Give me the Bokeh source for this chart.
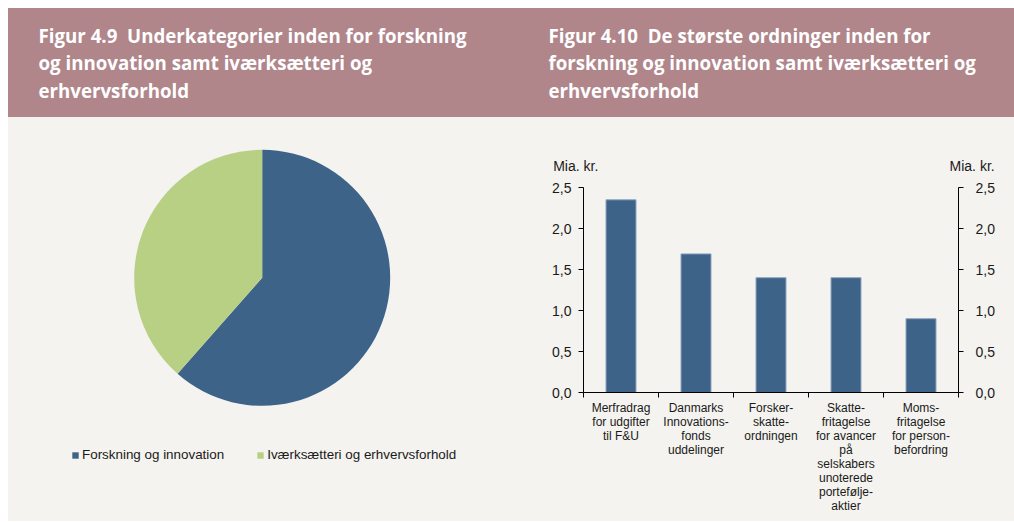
from bokeh.plotting import figure
from bokeh.layouts import column, row
from bokeh.models import (Range1d, Label, LinearAxis, FixedTicker, CustomJSTickFormatter,
                          Legend, LegendItem)
from bokeh.embed import file_html
from bokeh.resources import INLINE
import math

# ---------------- data ----------------
pie_labels = ["Forskning og innovation", "Iværksætteri og erhvervsforhold"]
pie_values = [61.5, 38.5]
pie_colors = ["#3e6389", "#b8d083"]

bar_categories = [
    "Merfradrag\nfor udgifter\ntil F&U",
    "Danmarks\nInnovations-\nfonds\nuddelinger",
    "Forsker-\nskatte-\nordningen",
    "Skatte-\nfritagelse\nfor avancer\npå\nselskabers\nunoterede\nportefølje-\naktier",
    "Moms-\nfritagelse\nfor person-\nbefordring",
]
bar_values = [2.35, 1.69, 1.40, 1.40, 0.90]
y_ticks = [0.0, 0.5, 1.0, 1.5, 2.0, 2.5]

title_left = "Figur 4.9\u00a0 Underkategorier inden for forskning\nog innovation samt iværksætteri og\nerhvervsforhold"
title_right = "Figur 4.10\u00a0 De største ordninger inden for\nforskning og innovation samt iværksætteri og\nerhvervsforhold"
unit_label = "Mia. kr."

# ---------------- style ----------------
BAND = "#b0868b"
BODY = "#f4f3ef"
BAR = "#3e6389"
TXT = "#1a1a1a"
SANS = "Liberation Sans"
HEAD_FONT = "Open Sans"

W_L, W_R = 512, 494
H_HEAD, H_BODY = 109, 404


def no_align(p):
    try:
        p.frame_align = False
    except Exception:
        pass


def blank(w, h, bg):
    p = figure(width=w, height=h, x_range=Range1d(0, w), y_range=Range1d(0, h),
               output_backend="svg", toolbar_location=None,
               x_axis_location=None, y_axis_location=None, min_border=0)
    p.background_fill_color = bg
    p.border_fill_color = bg
    p.outline_line_color = None
    p.grid.visible = False
    no_align(p)
    return p


def header(w, text, x0):
    p = blank(w, H_HEAD, BAND)
    p.add_layout(Label(x=x0, y=H_HEAD - 14, text=text, text_color="white",
                       text_font=HEAD_FONT, text_font_style="bold",
                       text_font_size="18.7px", text_baseline="top",
                       text_line_height=1.11))
    return p


h1 = header(W_L, title_left, 30)
h2 = header(W_R, title_right, 28)

# ---------------- pie ----------------
p1 = blank(W_L, H_BODY, BODY)
total = sum(pie_values)
starts, ends = [], []
acc = 0.0
for v in pie_values:
    starts.append(math.pi / 2 - 2 * math.pi * acc / total)
    acc += v
    ends.append(math.pi / 2 - 2 * math.pi * acc / total)
cx, cy, r = 253.7, 243.7, 128
items = []
for i in range(len(pie_values)):
    rr = p1.wedge(x=cx, y=cy, radius=r, start_angle=starts[i], end_angle=ends[i],
                  direction="clock", fill_color=pie_colors[i], line_color=None)
    items.append(LegendItem(label=pie_labels[i], renderers=[rr]))
leg = Legend(items=items, orientation="horizontal", location=(63, 59),
             glyph_width=8, glyph_height=8, label_standoff=3, spacing=32,
             padding=0, margin=0, background_fill_alpha=0, border_line_alpha=0,
             label_text_font=SANS, label_text_font_size="13.4px",
             label_text_color=TXT)
p1.add_layout(leg, "center")

# ---------------- bars ----------------
n = len(bar_values)
p2 = figure(width=W_R, height=H_BODY, x_range=Range1d(0, n), y_range=Range1d(0, 2.5),
            output_backend="svg", toolbar_location=None,
            min_border_left=63, min_border_right=56, min_border_top=70,
            min_border_bottom=129, x_axis_location=None, y_axis_location=None)
p2.background_fill_color = BODY
p2.border_fill_color = BODY
p2.outline_line_color = None
p2.grid.visible = False
no_align(p2)

xs = [i + 0.5 for i in range(n)]
p2.vbar(x=xs, top=bar_values, width=0.4, bottom=0, fill_color=BAR,
        line_color="#8fa5bd", line_width=1)

fmt_y = CustomJSTickFormatter(code="return tick.toFixed(1).replace('.', ',');")


def yaxis(standoff):
    ax = LinearAxis(ticker=FixedTicker(ticks=y_ticks, minor_ticks=[]), formatter=fmt_y)
    ax.major_tick_in = 0
    ax.major_tick_out = 5
    ax.minor_tick_line_color = None
    ax.axis_line_color = "#000000"
    ax.major_tick_line_color = "#000000"
    ax.major_label_text_font = SANS
    ax.major_label_text_font_size = "14px"
    ax.major_label_text_color = TXT
    ax.major_label_standoff = standoff
    return ax


p2.add_layout(yaxis(7), "left")
p2.add_layout(yaxis(12), "right")

xax = LinearAxis(ticker=FixedTicker(ticks=xs, minor_ticks=list(range(n + 1))),
                 formatter=CustomJSTickFormatter(args=dict(labels=bar_categories),
                                                 code="return labels[Math.floor(tick)];"))
xax.major_tick_line_color = None
xax.major_tick_in = 0
xax.major_tick_out = 0
xax.minor_tick_in = 0
xax.minor_tick_out = 5
xax.minor_tick_line_color = "#000000"
xax.axis_line_color = "#000000"
xax.major_label_text_font = SANS
xax.major_label_text_font_size = "12px"
xax.major_label_text_color = TXT
xax.major_label_text_line_height = 1.0
xax.major_label_standoff = 3
p2.add_layout(xax, "below")

# unit labels ("Mia. kr.") above both value axes
unit_axis = LinearAxis(
    ticker=FixedTicker(ticks=[0, n], minor_ticks=[]),
    formatter=CustomJSTickFormatter(
        args=dict(unit=unit_label, mid=n / 2),
        code="const nb = '\\u00a0'; return tick < mid ? unit + nb.repeat(4) : nb.repeat(7) + unit;"))
unit_axis.axis_line_color = None
unit_axis.major_tick_line_color = None
unit_axis.minor_tick_line_color = None
unit_axis.major_tick_in = 0
unit_axis.major_tick_out = 0
unit_axis.major_label_text_font = SANS
unit_axis.major_label_text_font_size = "14px"
unit_axis.major_label_text_color = TXT
unit_axis.major_label_standoff = 14
p2.add_layout(unit_axis, "above")

top_row = row(h1, h2, spacing=0, styles={"background-color": BAND})
body_row = row(p1, p2, spacing=0, styles={"background-color": BODY})
layout = column(top_row, body_row, spacing=0, margin=(8, 0, 0, 8))
open("out.html", "w").write(file_html(layout, INLINE))
